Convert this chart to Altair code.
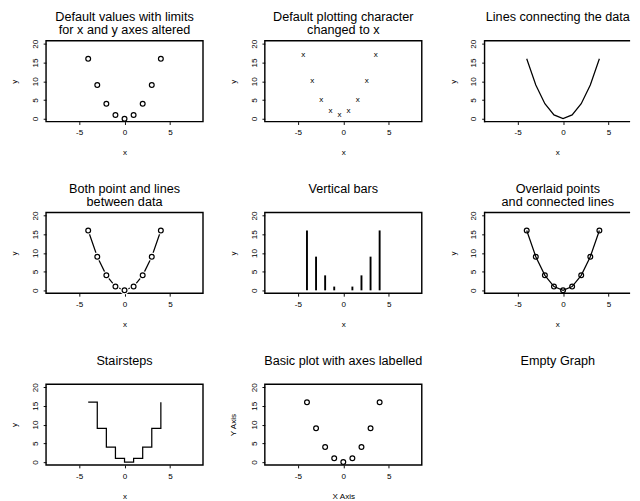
import altair as alt
import pandas as pd

xs = [-4, -3, -2, -1, 0, 1, 2, 3, 4]
ys = [16, 9, 4, 1, 0, 1, 4, 9, 16]
x_ticks = [-5, 0, 5]
y_ticks = [0, 5, 10, 15, 20]
x_domain = [-8.64, 8.64]
x_domain_cut = [-8.64, 7.38]   # right column is cut off at the picture edge
y_domain = [-0.8, 20.8]
titles = [
    ["Default values with limits", "for x and y axes altered"],
    ["Default plotting character", "changed to x"],
    ["Lines connecting the data"],
    ["Both point and lines", "between data"],
    ["Vertical bars"],
    ["Overlaid points", "and connected lines"],
    ["Stairsteps"],
    ["Basic plot with axes labelled"],
    ["Empty Graph"],
]
x_titles = ["x"] * 7 + ["X Axis", "x"]
y_titles = ["y"] * 7 + ["Y Axis", "y"]

df = pd.DataFrame({"x": xs, "y": ys})
one = pd.DataFrame({"k": [0]})
FONT = "Liberation Sans"
W, W3, H = 165, 153, 85
TITLE_Y = [-20.5, -7]
FRAME = alt.ViewBackground(stroke="black", strokeWidth=1.5)
NOFRAME = alt.ViewBackground(stroke="transparent")


def cut(i):
    return i % 3 == 2


def encs(i, hidden=False):
    col = "transparent" if hidden else "black"
    common = dict(
        tickSize=3, domain=False, grid=False,
        labelFontSize=8.5, labelFont=FONT, labelColor=col, tickColor=col,
        tickWidth=1, titleFont=FONT, titleFontSize=8.5, titleFontWeight="normal",
        titleColor=col, labelExpr="toString(datum.value)", labelOverlap=False,
    )
    xa = alt.Axis(values=x_ticks, title=x_titles[i], labelFlush=False, labelPadding=4,
                  titleY=32, titleBaseline="middle", **common)
    ya = alt.Axis(values=y_ticks, title=y_titles[i], labelAngle=270, labelPadding=6,
                  labelAlign="center", labelBaseline="alphabetic",
                  titleX=-34, titleBaseline="middle", titleAngle=270, **common)
    dom = x_domain_cut if cut(i) else x_domain
    x = alt.X("x:Q", scale=alt.Scale(domain=dom, nice=False, zero=False), axis=xa)
    y = alt.Y("y:Q", scale=alt.Scale(domain=y_domain, nice=False, zero=False), axis=ya)
    return x, y


def base(i, hidden=False):
    x, y = encs(i, hidden)
    return alt.Chart(df).encode(x=x, y=y)


def open_pts(i):
    return base(i).mark_point(shape="circle", filled=False, size=25, strokeWidth=1.3,
                              color="black", opacity=1)


def line(i, **kw):
    return base(i).mark_line(color="black", strokeWidth=1.3, **kw)


def title_layers(i):
    cx = 77 if cut(i) else W / 2
    out = []
    for k, t in enumerate(titles[i]):
        out.append(alt.Chart(one).mark_text(
            text=t, font=FONT, fontSize=13.3, align="center", baseline="alphabetic",
            color="black").encode(x=alt.value(cx), y=alt.value(TITLE_Y[k])))
    return out


def frame_layers(w):
    r = dict(color="black", strokeWidth=1.5)
    return [
        alt.Chart(one).mark_rule(**r).encode(x=alt.value(0), x2=alt.value(w), y=alt.value(0)),
        alt.Chart(one).mark_rule(**r).encode(x=alt.value(0), x2=alt.value(w), y=alt.value(H)),
        alt.Chart(one).mark_rule(**r).encode(x=alt.value(0), y=alt.value(-0.75),
                                             y2=alt.value(H + 0.75)),
    ]


def panel(i, layers, framed=True):
    if cut(i):
        extra = frame_layers(W3) if framed else []
        return alt.layer(*layers, *extra, *title_layers(i)).properties(
            width=W3, height=H, view=NOFRAME)
    return alt.layer(*layers, *title_layers(i)).properties(
        width=W, height=H, view=FRAME if framed else NOFRAME)


panels = []
# 1 default points
panels.append(panel(0, [open_pts(0)]))
# 2 plotting character x
panels.append(panel(1, [base(1).mark_text(text="x", fontSize=8.5, dx=-4, dy=-5, font=FONT,
                                          color="black")]))
# 3 lines
panels.append(panel(2, [line(2)]))
# 4 points and lines with gaps
gap = base(3).mark_point(shape="circle", filled=True, color="white", size=75, opacity=1)
panels.append(panel(3, [line(3), gap, open_pts(3)]))
# 5 vertical bars
x5, y5 = encs(4)
panels.append(panel(4, [alt.Chart(df).mark_rule(color="black", strokeWidth=2).encode(
    x=x5, y=y5, y2=alt.datum(0))]))
# 6 overlaid
panels.append(panel(5, [line(5), open_pts(5)]))
# 7 stairsteps
panels.append(panel(6, [line(6, interpolate="step-after")]))
# 8 labelled axes
panels.append(panel(7, [open_pts(7)]))
# 9 empty
panels.append(panel(8, [base(8, hidden=True).mark_point(opacity=0)], framed=False))

chart = alt.concat(*panels, columns=3, spacing={"row": 24.5, "column": 25}).properties(
    padding={"left": 1, "top": -11.5, "right": 0, "bottom": 0}
).configure_view(stroke="black", strokeWidth=1.5)

chart.save("out.html", embed_options={"renderer": "svg", "actions": False})
